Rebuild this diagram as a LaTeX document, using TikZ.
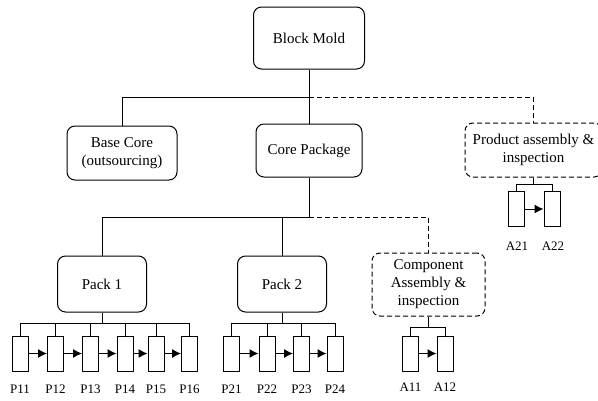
\documentclass[tikz,border=0pt]{standalone}
\usepackage{fontspec}
\setmainfont{Liberation Serif}
\usetikzlibrary{arrows.meta}

\tikzset{
  unit/.style={draw, rounded corners=8pt, line width=1pt, align=center,
    font=\fontsize{15}{18}\selectfont, inner sep=0pt},
  dunit/.style={unit, dash pattern=on 5pt off 3pt},
  task/.style={draw, line width=1pt, minimum width=16pt, minimum height=35pt, inner sep=0pt},
  tag/.style={font=\fontsize{13}{15}\selectfont, inner sep=0pt},
  link/.style={line width=1pt},
  dlink/.style={line width=1pt, dash pattern=on 5pt off 3pt},
  flow/.style={line width=1pt, -{Latex[length=9pt,width=9pt]}},
}

\begin{document}
\begin{tikzpicture}[x=1pt,y=-1pt]
\useasboundingbox (0,0) rectangle (598,400);

% main units
\node[unit, minimum width=111pt, minimum height=62pt] (bm) at (309,38) {Block Mold};
\node[unit, minimum width=110pt, minimum height=54pt] (base) at (122,153) {Base Core\\(outsourcing)};
\node[unit, minimum width=106pt, minimum height=53pt] (core) at (309,150.5) {Core Package};
\node[dunit, minimum width=137pt, minimum height=54pt] (prod) at (533.5,150) {Product assembly \&\\inspection};
\node[unit, minimum width=89pt, minimum height=56pt] (pk1) at (102,284) {Pack 1};
\node[unit, minimum width=89pt, minimum height=56pt] (pk2) at (282,284) {Pack 2};
\node[dunit, minimum width=113pt, minimum height=63pt] (comp) at (428.5,284.5) {Component\\Assembly \&\\inspection};

% level 1 connectors
\coordinate (j1) at (309,97);
\draw[link] (bm.south) -- (core.north);
\draw[link] (base.north) |- (j1);
\draw[dlink] (j1) -| (prod.north);

% level 2 connectors
\coordinate (j2) at (309,217);
\draw[link] (core.south) -- (j2);
\draw[link] (pk1.north) |- (j2);
\draw[link] (pk2.north) -- (pk2.north |- j2);
\draw[dlink] (j2) -| (comp.north);

% operations under Pack 1
\foreach \n/\x in {11/20,12/55.5,13/90.5,14/125,15/156,16/189.5}{
  \node[task] (p\n) at (\x,353.5) {};
  \node[tag] at (\x,389) {P\n};
}
% operations under Pack 2
\foreach \n/\x in {21/231.5,22/267,23/301.5,24/335}{
  \node[task] (p\n) at (\x,353.5) {};
  \node[tag] at (\x,389) {P\n};
}
% operations under component assembly
\foreach \n/\x in {11/410.5,12/445}{
  \node[task] (a\n) at (\x,353.5) {};
  \node[tag] at (\x,387) {A\n};
}
% operations under product assembly
\foreach \n/\x in {21/516,22/552}{
  \node[task] (a\n) at (\x,209) {};
  \node[tag] at (\x+1,246) {A\n};
}

% branch lines to operations
\draw[link] (pk1.south) -- ++(0,11) coordinate (k1);
\foreach \n in {11,12,13,14,15,16} \draw[link] (p\n.north) |- (k1);
\draw[link] (pk2.south) -- ++(0,11) coordinate (k2);
\foreach \n in {21,22,23,24} \draw[link] (p\n.north) |- (k2);
\draw[link] (comp.south) -- ++(0,11) coordinate (k3);
\foreach \n in {11,12} \draw[link] (a\n.north) |- (k3);
\draw[link] (prod.south) -- ++(0,7) coordinate (k4);
\foreach \n in {21,22} \draw[link] (a\n.north) |- (k4);

% sequence arrows
\foreach \a/\b in {11/12,12/13,13/14,14/15,15/16,21/22,22/23,23/24}
  \draw[flow] (p\a.east) -- (p\b.west);
\draw[flow] (a11.east) -- (a12.west);
\draw[flow] (a21.east) -- (a22.west);
\end{tikzpicture}
\end{document}
